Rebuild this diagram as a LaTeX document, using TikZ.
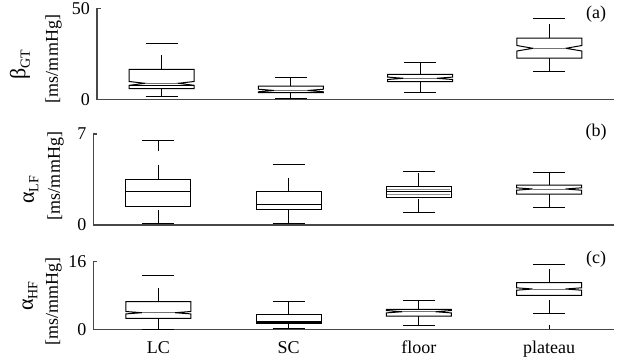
\documentclass[tikz,border=0pt]{standalone}
\usepackage{fontspec}
\setmainfont{Liberation Serif}
\tikzset{
  ax/.style={line width=1.3pt, draw=black!72},
  bx/.style={line width=1pt, draw=black, line join=miter},
  whisk/.style={line width=1pt, draw=black, dash pattern=on 14pt off 14pt},
  medl/.style={line width=1.3pt, draw=black},
  ticklab/.style={font=\fontsize{18}{20}\selectfont, anchor=east, inner sep=0pt},
  lab/.style={font=\fontsize{18}{21}\selectfont, inner sep=0pt},
  ylab/.style={font=\fontsize{18}{21}\selectfont, inner sep=0pt, rotate=90},
}
\newcommand\grk[2]{{\fontsize{22}{24}\selectfont #1}\raisebox{-4.5pt}{\fontsize{14}{15}\selectfont #2}}
% whiskers: cx q3 q1 hi lo
\newcommand\whiskers[5]{%
  \draw[whisk] (#1,#2) -- (#1,#4);
  \draw[whisk] (#1,#5) -- (#1,#3);
  \draw[bx] (#1-16,#4) -- (#1+16,#4);
  \draw[bx] (#1-16,#5) -- (#1+16,#5);
}
% plain box: cx q3 med q1
\newcommand\plainbx[4]{%
  \draw[bx] (#1-32.5,#2) rectangle (#1+32.5,#4);
  \draw[medl] (#1-32.5,#3) -- (#1+32.5,#3);
}
% notched box: cx q3 nHi med nLo q1
\newcommand\notchbx[6]{%
  \draw[bx] (#1-32.5,#2) -- (#1+32.5,#2) -- (#1+32.5,#3) -- (#1+16.5,#4)
    -- (#1+32.5,#5) -- (#1+32.5,#6) -- (#1-32.5,#6) -- (#1-32.5,#5)
    -- (#1-16.5,#4) -- (#1-32.5,#3) -- cycle;
  \draw[bx, draw=black!55] (#1-16.5,#4) -- (#1+16.5,#4);
}
\begin{document}
\begin{tikzpicture}[x=1pt,y=-1pt]
\useasboundingbox (0,0) rectangle (627,360);

% ---------- panel (a)
\draw[ax] (101,8.7) -- (97,8.7) -- (97,99.3) -- (614,99.3);
\node[ticklab] (a50) at (90,8.7) {50};
\node[ticklab] (a0) at (90,99.8) {0};
\node[ylab] (ayl1) at (20,65) {\grk{β}{GT}};
\node[ylab] (ayl2) at (53.5,59) {[ms/mmHg]};
\node[lab] (pa) at (596,14) {(a)};

\whiskers{161.6}{69.3}{88.7}{43.7}{96.7}
\notchbx{161.6}{69.3}{81.5}{83.3}{85.3}{88.7}
\draw[bx] (129.1,85.3) -- (194.1,85.3);

\whiskers{290.9}{86}{92.7}{77.5}{98.7}
\notchbx{290.9}{86}{89.2}{90.5}{91.8}{92.7}

\whiskers{420.1}{74.3}{81.7}{62.7}{92.3}
\notchbx{420.1}{74.3}{77.1}{78.3}{79.5}{81.7}

\whiskers{549.4}{38}{58}{18}{71.7}
\notchbx{549.4}{38}{45.5}{48.3}{51}{58}

% ---------- panel (b)
\draw[ax] (97.3,134) -- (93.3,134) -- (93.3,225) -- (614,225);
\node[ticklab] (b7) at (86.5,134) {7};
\node[ticklab] (b0) at (86.5,225) {0};
\node[ylab] (byl1) at (31,190) {\grk{α}{LF}};
\node[ylab] (byl2) at (55.5,176) {[ms/mmHg]};
\node[lab] (pb) at (596,132) {(b)};

\whiskers{158.4}{179}{206}{140.7}{223.7}
\plainbx{158.4}{179}{191.7}{206}

\whiskers{288.6}{191.7}{209.3}{164.3}{223.7}
\plainbx{288.6}{191.7}{204.7}{209.3}

\whiskers{418.8}{186.7}{197}{171}{212.7}
\plainbx{418.8}{186.7}{191.7}{197}
\draw[bx, draw=black!45, line width=0.8pt] (387.3,189.2) -- (450.3,189.2);
\draw[bx, draw=black!45, line width=0.8pt] (387.3,194.4) -- (450.3,194.4);

\whiskers{549.0}{185}{194}{172.3}{207.3}
\notchbx{549.0}{185}{187.8}{189}{190.2}{194}

% ---------- panel (c)
\draw[ax] (97.3,261.7) -- (93.3,261.7) -- (93.3,329.3) -- (614,329.3);
\node[ticklab] (c16) at (86.5,261.7) {16};
\node[ticklab] (c0) at (86.5,330) {0};
\node[ylab] (cyl1) at (30,296) {\grk{α}{HF}};
\node[ylab] (cyl2) at (53.5,301.7) {[ms/mmHg]};
\node[lab] (pc) at (596,259) {(c)};

\whiskers{158.4}{301.7}{318.3}{275.7}{329}
\notchbx{158.4}{301.7}{311.5}{312.7}{313.9}{318.3}

\whiskers{288.6}{314.7}{323.7}{301}{328.7}
\plainbx{288.6}{314.7}{322}{323.7}

\whiskers{418.8}{309.3}{316}{300}{325.7}
\notchbx{418.8}{309.3}{310.5}{311.7}{312.9}{316}

\whiskers{549.0}{282.7}{295.3}{264}{313.7}
\notchbx{549.0}{282.7}{287.8}{289}{290.2}{295.3}
\draw[bx] (549.0,324.7) -- (549.0,329.3);

% ---------- category labels
\node[lab, anchor=base] (lLC) at (158.4,353.3) {LC};
\node[lab, anchor=base] (lSC) at (288.6,353.3) {SC};
\node[lab, anchor=base] (lfl) at (418.8,353.3) {floor};
\node[lab, anchor=base] (lpl) at (549.0,353.3) {plateau};
\end{tikzpicture}
\end{document}
